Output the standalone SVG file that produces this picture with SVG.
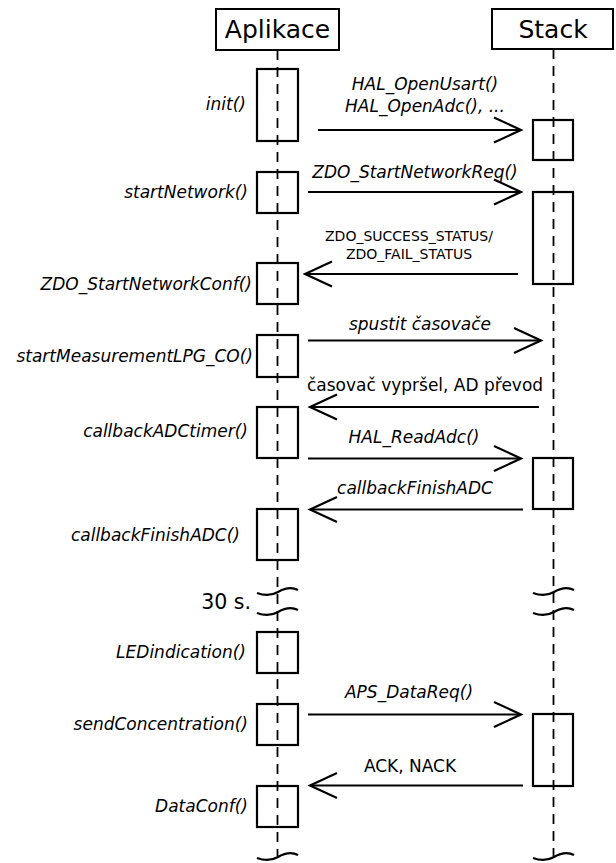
<svg xmlns="http://www.w3.org/2000/svg" width="616" height="863" viewBox="0 0 616 863">
<style>
text{font-family:"DejaVu Sans","Liberation Sans",sans-serif;fill:#000}
.head{font-size:25px;text-anchor:middle}
.lbl{font-size:17px;font-style:italic;text-anchor:end}
.msg{font-size:17px;font-style:italic;text-anchor:middle}
.plain{font-size:17px;text-anchor:middle}
.small{font-size:14px;text-anchor:middle}
.box{fill:#fff;stroke:#000;stroke-width:2}
.act{fill:none;stroke:#000;stroke-width:2.2}
.life{stroke:#000;stroke-width:1.8;stroke-dasharray:10,7;fill:none}
.arr{stroke:#000;stroke-width:2.2;fill:none;marker-end:url(#open)}
.brk{stroke:#000;stroke-width:2.2;fill:none}
</style>
<defs>
<marker id="open" markerUnits="userSpaceOnUse" markerWidth="34" markerHeight="32" refX="29" refY="15" orient="auto" viewBox="0 0 34 32" overflow="visible">
<path d="M2,2.5 L29,15 L2,27.5" fill="none" stroke="#000" stroke-width="2.2"/>
</marker>
<path id="tilde" d="M0,0 C8,3 14,3 21,-1 C28,-5 35,-6 41,-3"/>
</defs>
<rect width="616" height="863" fill="#fff"/>

<g id="lifelines">
<line class="life" x1="277.5" y1="50" x2="277.5" y2="856"/>
<line class="life" x1="553.5" y1="49" x2="553.5" y2="856"/>
</g>

<g id="aplikace">
<rect class="box" x="216" y="9" width="123" height="41"/>
<text class="head" x="277.5" y="38">Aplikace</text>
</g>
<g id="stack">
<rect class="box" x="492" y="9" width="121" height="40"/>
<text class="head" x="553" y="38">Stack</text>
</g>

<g id="act-init"><rect class="act" x="257" y="69" width="41" height="72"/><text class="lbl" x="246" y="110">init()</text></g>
<g id="act-startNetwork"><rect class="act" x="257" y="172" width="41" height="41"/><text class="lbl" x="248" y="198">startNetwork()</text></g>
<g id="act-ZDO_StartNetworkConf"><rect class="act" x="257" y="263" width="41" height="41"/><text class="lbl" x="252" y="290">ZDO_StartNetworkConf()</text></g>
<g id="act-startMeasurement"><rect class="act" x="257" y="335" width="41" height="42"/><text class="lbl" x="253" y="362">startMeasurementLPG_CO()</text></g>
<g id="act-callbackADCtimer"><rect class="act" x="257" y="407" width="41" height="51"/><text class="lbl" x="248" y="437">callbackADCtimer()</text></g>
<g id="act-callbackFinishADC"><rect class="act" x="257" y="509" width="41" height="51"/><text class="lbl" x="240" y="541">callbackFinishADC()</text></g>
<g id="act-LEDindication"><rect class="act" x="257" y="632" width="41" height="41"/><text class="lbl" x="246" y="658">LEDindication()</text></g>
<g id="act-sendConcentration"><rect class="act" x="257" y="704" width="41" height="41"/><text class="lbl" x="248" y="730">sendConcentration()</text></g>
<g id="act-DataConf"><rect class="act" x="257" y="786" width="41" height="41"/><text class="lbl" x="248" y="812">DataConf()</text></g>

<g id="stack-act1"><rect class="act" x="533" y="120" width="40" height="40"/></g>
<g id="stack-act2"><rect class="act" x="533" y="192" width="40" height="92"/></g>
<g id="stack-act3"><rect class="act" x="533" y="458" width="40" height="51"/></g>
<g id="stack-act4"><rect class="act" x="533" y="714" width="40" height="72"/></g>

<g id="breaks">
<use href="#tilde" class="brk" x="257" y="593"/>
<use href="#tilde" class="brk" x="257" y="613"/>
<use href="#tilde" class="brk" x="533" y="593"/>
<use href="#tilde" class="brk" x="533" y="613"/>
<use href="#tilde" class="brk" x="257" y="858"/>
<use href="#tilde" class="brk" x="533" y="858"/>
<text x="251" y="609" style="font-size:20.5px;text-anchor:end">30 s.</text>
</g>

<g id="connectors">
<line class="arr" x1="318" y1="130" x2="521" y2="130"/>
<line class="arr" x1="308" y1="192" x2="521" y2="192"/>
<line class="arr" x1="518" y1="274" x2="305" y2="274"/>
<line class="arr" x1="308" y1="340.5" x2="541" y2="340.5"/>
<line class="arr" x1="539" y1="407" x2="310" y2="407"/>
<line class="arr" x1="308" y1="458.5" x2="521" y2="458.5"/>
<line class="arr" x1="523" y1="509.5" x2="310" y2="509.5"/>
<line class="arr" x1="308" y1="714.5" x2="521" y2="714.5"/>
<line class="arr" x1="523" y1="785.5" x2="310" y2="785.5"/>
</g>

<g id="labels">
<text class="msg" x="425" y="90">HAL_OpenUsart()</text>
<text class="msg" x="425" y="112">HAL_OpenAdc(), ...</text>
<text class="msg" x="415" y="178">ZDO_StartNetworkReq()</text>
<text class="small" x="409" y="241">ZDO_SUCCESS_STATUS/</text>
<text class="small" x="409" y="259">ZDO_FAIL_STATUS</text>
<text class="msg" x="420" y="330">spustit časovače</text>
<text class="plain" x="425" y="391">časovač vypršel, AD převod</text>
<text class="msg" x="414" y="443">HAL_ReadAdc()</text>
<text class="msg" x="415" y="494">callbackFinishADC</text>
<text class="msg" x="409" y="698">APS_DataReq()</text>
<text class="plain" x="410" y="772">ACK, NACK</text>
</g>
</svg>
